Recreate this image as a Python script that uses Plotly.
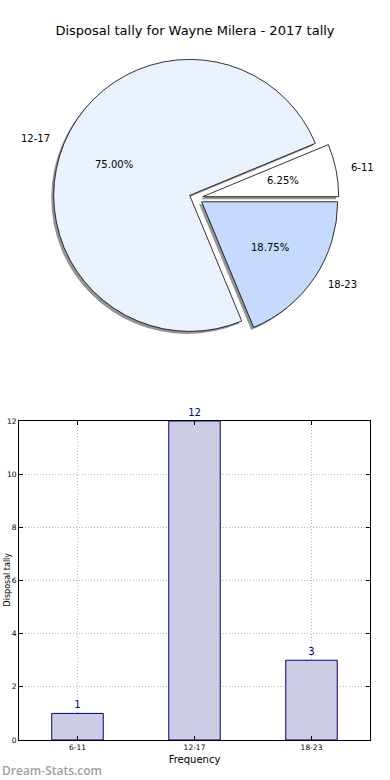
import math
import plotly.graph_objects as go

categories = ["6-11", "12-17", "18-23"]
counts = [1, 12, 3]
slice_colors = ["#ffffff", "#ebf2ff", "#c6d9fe"]
pulls = [0.05, 0.05, 0.05]
title_text = "Disposal tally for Wayne Milera - 2017 tally"
y_ticks = [0, 2, 4, 6, 8, 10, 12]

W, H = 390, 780
ML, MR, MT, MB = 19, 20, 0, 40
PW = W - ML - MR
PH = H - MT - MB

def px_x(px):
    return (px - ML) / PW

def px_y(py):
    return 1 - (py - MT) / PH

FONT = "DejaVu Sans"

# matplotlib-style start at 3 o'clock, counterclockwise
total = sum(counts)
start_rot = 90 - 360 * counts[0] / total

# pie geometry (pixels)
cx, cy, R = 196, 198, 136
half = R * (1 + max(pulls))
dom_x = [px_x(cx - half), px_x(cx + half)]
dom_y = [px_y(cy + half), px_y(cy - half)]
sx, sy = -2.5, 2.5
shadow_x = [px_x(cx - half + sx), px_x(cx + half + sx)]
shadow_y = [px_y(cy + half + sy), px_y(cy - half + sy)]

fig = go.Figure()

common = dict(labels=categories, values=counts, sort=False,
              direction="counterclockwise", rotation=start_rot, pull=pulls,
              showlegend=False, textinfo="none")

# shadow
fig.add_trace(go.Pie(
    **common, domain=dict(x=shadow_x, y=shadow_y),
    marker=dict(colors=["rgba(60,60,60,0.55)"] * 3, line=dict(width=0)),
    hoverinfo="skip",
))
# main pie
fig.add_trace(go.Pie(
    **common, domain=dict(x=dom_x, y=dom_y),
    marker=dict(colors=slice_colors, line=dict(color="#000000", width=0.8)),
))

# slice texts placed matplotlib-style (pct at 0.6R, label at 1.1R)
annotations = []
acc = 0
for cat, val, pull in zip(categories, counts, pulls):
    mid = math.radians(360 * (acc + val / 2) / total)
    acc += val
    ox = cx + pull * R * math.cos(mid)
    oy = cy - pull * R * math.sin(mid)
    annotations.append(dict(
        text=f"{100 * val / total:.2f}%", xref="paper", yref="paper",
        x=px_x(ox + 0.6 * R * math.cos(mid)), y=px_y(oy - 0.6 * R * math.sin(mid)),
        xanchor="center", yanchor="middle", showarrow=False,
        font=dict(family=FONT, size=10, color="#000000")))
    annotations.append(dict(
        text=cat, xref="paper", yref="paper",
        x=px_x(ox + 1.1 * R * math.cos(mid)), y=px_y(oy - 1.1 * R * math.sin(mid)),
        xanchor="left" if math.cos(mid) >= 0 else "right", yanchor="middle",
        showarrow=False, font=dict(family=FONT, size=10, color="#000000")))

# bar chart
fig.add_trace(go.Bar(
    x=categories, y=counts, width=0.44,
    marker=dict(color="#ccccE5", line=dict(color="#000080", width=1)),
    text=[str(c) for c in counts], textposition="outside",
    textfont=dict(family=FONT, size=10, color="#000080"),
    cliponaxis=False, showlegend=False, hoverinfo="skip",
))

bar_top = px_y(421)
axis_common = dict(showline=True, linecolor="#000000", linewidth=1, mirror="ticks",
                   ticks="inside", ticklen=4, tickcolor="#000000", showgrid=True,
                   gridcolor="#b8b8b8", griddash="1px,2px", gridwidth=1,
                   tickfont=dict(family=FONT, size=7.5, color="#000000"),
                   zeroline=False, automargin=False)

annotations += [
    dict(text="Disposal tally", textangle=-90, xref="paper", yref="paper",
         x=px_x(0), y=px_y(580), xanchor="left", yanchor="middle",
         showarrow=False, font=dict(family=FONT, size=8, color="#000000")),
    dict(text="Dream-Stats.com", xref="paper", yref="paper",
         x=px_x(0), y=px_y(770), xanchor="left", yanchor="middle",
         showarrow=False,
         font=dict(family="Open Sans", size=12, color="#a0a0a0", weight=600)),
]

fig.update_layout(
    template="none",
    width=W, height=H,
    margin=dict(l=ML, r=MR, t=MT, b=MB, pad=0),
    paper_bgcolor="white", plot_bgcolor="white",
    font=dict(family=FONT, size=10, color="#000000"),
    title=dict(text=title_text, x=0.5, xanchor="center", y=1 - 30 / H,
               yanchor="middle", font=dict(family=FONT, size=13, color="#000000")),
    xaxis=dict(domain=[0, 1], range=[-0.5, 2.5], **axis_common,
               title=dict(text="Frequency", font=dict(family=FONT, size=10), standoff=4)),
    yaxis=dict(domain=[0, bar_top], range=[0, 12], tickvals=y_ticks, **axis_common),
    annotations=annotations,
)

fig.write_html("out.html", config={"displayModeBar": False},
               post_script="document.body.style.margin='0';")
